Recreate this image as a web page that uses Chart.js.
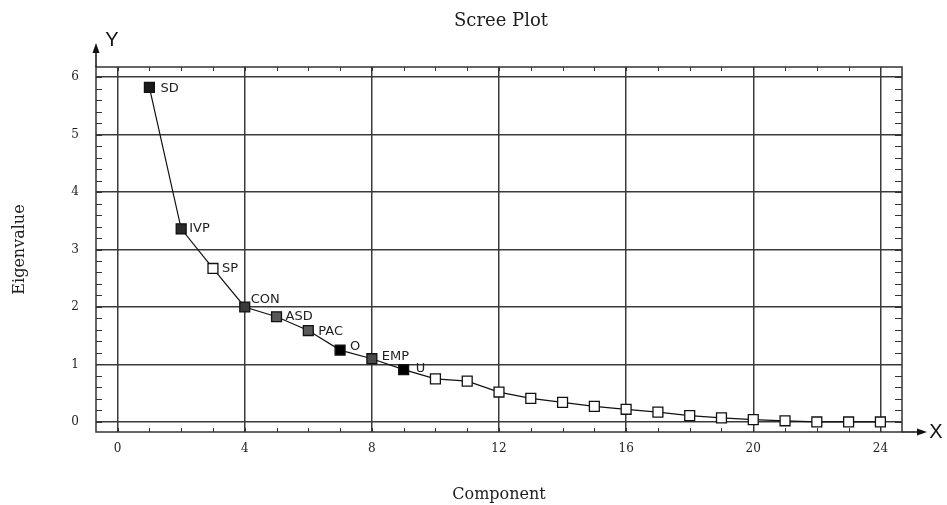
<!DOCTYPE html>
<html>
<head>
<meta charset="utf-8">
<script src="https://cdn.jsdelivr.net/npm/chart.js@4.4.1/dist/chart.umd.min.js"></script>
<style>
  html, body { margin: 0; padding: 0; background: #fff; }
  #wrap { width: 947px; height: 505px; }
</style>
</head>
<body>
<div id="wrap"><canvas id="scree"></canvas></div>
<script>
// Scree plot data
const components = [1, 2, 3, 4, 5, 6, 7, 8, 9, 10, 11, 12, 13, 14, 15, 16, 17, 18, 19, 20, 21, 22, 23, 24];
const eigenvalues = [5.82, 3.36, 2.67, 2.00, 1.83, 1.59, 1.25, 1.10, 0.91, 0.75, 0.71, 0.52,
                     0.41, 0.34, 0.27, 0.22, 0.17, 0.11, 0.07, 0.04, 0.02, 0.00, 0.00, 0.00];
const pointNames = ['SD', 'IVP', 'SP', 'CON', 'ASD', 'PAC', 'O', 'EMP', 'U'];
const xTicks = [0, 4, 8, 12, 16, 20, 24];
const yTicks = [0, 1, 2, 3, 4, 5, 6];
const chartTitle = 'Scree Plot';

// marker look (fills) and label offsets, kept apart from the values
const markerFills = ['#1a1a1a', '#2a2a2a', '#fff', '#3a3a3a', '#5a5a5a', '#5a5a5a', '#000', '#4a4a4a', '#000'];
const labelOffsets = [[11, 1], [8, 0], [9, 0], [6, -7], [9, 0], [10, 1], [10, -3], [10, -2], [12, -1]];

const INK = '#1e1e1e';

const framePlugin = {
    id: 'frame',
    beforeDatasetsDraw(chart) {
        const { ctx, chartArea: a, scales: { x, y } } = chart;
        ctx.save();
        ctx.strokeStyle = '#333';
        ctx.lineWidth = 1.5;
        ctx.strokeRect(a.left, a.top, a.right - a.left, a.bottom - a.top);
        ctx.lineWidth = 1;
        ctx.beginPath();
        // small ticks on top / bottom every unit
        for (let i = xTicks[0]; i <= xTicks[xTicks.length - 1]; i++) {
            const px = Math.round(x.getPixelForValue(i)) + 0.5;
            ctx.moveTo(px, a.bottom); ctx.lineTo(px, a.bottom - 4);
            ctx.moveTo(px, a.top); ctx.lineTo(px, a.top + 4);
        }
        // small ticks left / right every 0.2
        for (let i = 0; i <= 30; i++) {
            const py = Math.round(y.getPixelForValue(i / 5)) + 0.5;
            ctx.moveTo(a.left, py); ctx.lineTo(a.left + 6, py);
            ctx.moveTo(a.right, py); ctx.lineTo(a.right - 7, py);
        }
        ctx.stroke();
        ctx.restore();
    },
    afterDatasetsDraw(chart) {
        const { ctx, chartArea: a } = chart;
        const meta = chart.getDatasetMeta(0);
        ctx.save();
        // title, centred over the plot frame
        ctx.fillStyle = INK;
        ctx.font = '18px "DejaVu Serif"';
        ctx.textAlign = 'center';
        ctx.textBaseline = 'middle';
        ctx.fillText(chartTitle, (a.left + a.right) / 2 + 2, 21);
        // point names
        ctx.font = '13px "DejaVu Sans"';
        ctx.textAlign = 'left';
        pointNames.forEach((name, i) => {
            const el = meta.data[i];
            ctx.fillText(name, el.x + labelOffsets[i][0], el.y + labelOffsets[i][1]);
        });
        // axis arrows
        ctx.strokeStyle = '#111';
        ctx.fillStyle = '#111';
        ctx.lineWidth = 1.5;
        ctx.beginPath();
        ctx.moveTo(a.left, a.top); ctx.lineTo(a.left, a.top - 20);
        ctx.moveTo(a.right, a.bottom); ctx.lineTo(a.right + 22, a.bottom);
        ctx.stroke();
        ctx.beginPath();
        ctx.moveTo(a.left, a.top - 24); ctx.lineTo(a.left - 3.5, a.top - 14); ctx.lineTo(a.left + 3.5, a.top - 14); ctx.closePath();
        ctx.moveTo(a.right + 25, a.bottom); ctx.lineTo(a.right + 15, a.bottom - 3.5); ctx.lineTo(a.right + 15, a.bottom + 3.5); ctx.closePath();
        ctx.fill();
        ctx.font = '20px "Liberation Sans"';
        ctx.textAlign = 'center';
        ctx.fillText('Y', a.left + 16, a.top - 27);
        ctx.fillText('X', a.right + 34, a.bottom);
        ctx.restore();
    }
};

const ctx = document.getElementById('scree').getContext('2d');

new Chart(ctx, {
    type: 'scatter',
    data: {
        datasets: [{
            label: 'Eigenvalue',
            data: components.map((c, i) => ({ x: c, y: eigenvalues[i] })),
            showLine: true,
            borderColor: '#111',
            borderWidth: 1.2,
            pointStyle: 'rect',
            pointRadius: 7,
            pointHoverRadius: 7,
            pointBorderWidth: 1.3,
            pointBorderColor: '#111',
            pointBackgroundColor: components.map((c, i) => markerFills[i] || '#fff')
        }]
    },
    options: {
        responsive: true,
        maintainAspectRatio: false,
        animation: false,
        layout: { padding: { left: 0, right: 45, top: 67, bottom: 0 } },
        plugins: {
            legend: { display: false },
            tooltip: { enabled: false },
            title: { display: false }
        },
        scales: {
            x: {
                type: 'linear',
                min: -0.68,
                max: 24.68,
                afterBuildTicks: (scale) => { scale.ticks = xTicks.map(v => ({ value: v })); },
                afterFit: (scale) => { scale.height = 73; },
                grid: { color: '#3a3a3a', lineWidth: 1.5, drawTicks: false },
                border: { display: false },
                ticks: { color: INK, padding: 10, font: { family: '"DejaVu Serif"', size: 12 } },
                title: {
                    display: true,
                    text: 'Component',
                    color: INK,
                    font: { family: '"DejaVu Serif"', size: 16 },
                    padding: { top: 0, bottom: 1 }
                }
            },
            y: {
                type: 'linear',
                min: -0.175,
                max: 6.175,
                afterBuildTicks: (scale) => { scale.ticks = yTicks.map(v => ({ value: v })); },
                afterFit: (scale) => { scale.width = 96; },
                grid: { color: '#3a3a3a', lineWidth: 1.5, drawTicks: false },
                border: { display: false },
                ticks: { color: INK, padding: 17, font: { family: '"DejaVu Serif"', size: 12 } },
                title: {
                    display: true,
                    text: 'Eigenvalue',
                    color: INK,
                    font: { family: '"DejaVu Serif"', size: 16 },
                    padding: { top: 10, bottom: 0 }
                }
            }
        }
    },
    plugins: [framePlugin]
});
</script>
</body>
</html>
